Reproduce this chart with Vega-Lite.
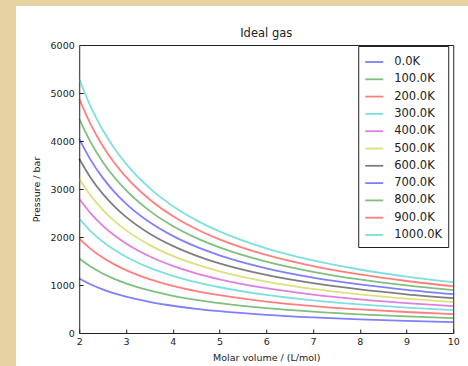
{
  "$schema": "https://vega.github.io/schema/vega-lite/v6.json",
  "background": "white",
  "padding": 0,
  "config": {"view": {"stroke": null}, "font": "DejaVu Sans"},
  "spacing": 0,
  "resolve": {"legend": {"color": "independent"}, "scale": {"color": "independent"}},
  "hconcat": [
    {"width": 16, "height": 366, "data": {"values": []}, "mark": "point", "view": {"fill": "#e6d3a2", "stroke": null}},
    {
      "spacing": 21,
      "center": true,
      "resolve": {"legend": {"color": "independent"}, "scale": {"color": "independent"}},
      "vconcat": [
        {"width": 507, "height": 6, "data": {"values": []}, "mark": "point", "view": {"fill": "#e6d3a2", "stroke": null}},
        {
          "width": 374,
          "height": 288,
          "view": {"fill": "white", "stroke": "#222", "strokeWidth": 1},
          "title": {"text": "Ideal gas", "fontSize": 11.5, "fontWeight": "normal", "color": "#222", "offset": 1, "anchor": "middle", "frame": "group"},
          "data": {"values": [
{"T":"0.0K","V":2,"P":1135.5},{"T":"0.0K","V":2.25,"P":1009.3},{"T":"0.0K","V":2.5,"P":908.4},{"T":"0.0K","V":2.75,"P":825.8},{"T":"0.0K","V":3,"P":757.0},{"T":"0.0K","V":3.5,"P":648.8},{"T":"0.0K","V":4,"P":567.7},{"T":"0.0K","V":4.5,"P":504.7},{"T":"0.0K","V":5,"P":454.2},{"T":"0.0K","V":6,"P":378.5},{"T":"0.0K","V":7,"P":324.4},{"T":"0.0K","V":8,"P":283.9},{"T":"0.0K","V":9,"P":252.3},{"T":"0.0K","V":10,"P":227.1},
{"T":"100.0K","V":2,"P":1551.2},{"T":"100.0K","V":2.25,"P":1378.8},{"T":"100.0K","V":2.5,"P":1240.9},{"T":"100.0K","V":2.75,"P":1128.1},{"T":"100.0K","V":3,"P":1034.1},{"T":"100.0K","V":3.5,"P":886.4},{"T":"100.0K","V":4,"P":775.6},{"T":"100.0K","V":4.5,"P":689.4},{"T":"100.0K","V":5,"P":620.5},{"T":"100.0K","V":6,"P":517.1},{"T":"100.0K","V":7,"P":443.2},{"T":"100.0K","V":8,"P":387.8},{"T":"100.0K","V":9,"P":344.7},{"T":"100.0K","V":10,"P":310.2},
{"T":"200.0K","V":2,"P":1966.9},{"T":"200.0K","V":2.25,"P":1748.3},{"T":"200.0K","V":2.5,"P":1573.5},{"T":"200.0K","V":2.75,"P":1430.5},{"T":"200.0K","V":3,"P":1311.3},{"T":"200.0K","V":3.5,"P":1123.9},{"T":"200.0K","V":4,"P":983.4},{"T":"200.0K","V":4.5,"P":874.2},{"T":"200.0K","V":5,"P":786.8},{"T":"200.0K","V":6,"P":655.6},{"T":"200.0K","V":7,"P":562.0},{"T":"200.0K","V":8,"P":491.7},{"T":"200.0K","V":9,"P":437.1},{"T":"200.0K","V":10,"P":393.4},
{"T":"300.0K","V":2,"P":2382.6},{"T":"300.0K","V":2.25,"P":2117.9},{"T":"300.0K","V":2.5,"P":1906.1},{"T":"300.0K","V":2.75,"P":1732.8},{"T":"300.0K","V":3,"P":1588.4},{"T":"300.0K","V":3.5,"P":1361.5},{"T":"300.0K","V":4,"P":1191.3},{"T":"300.0K","V":4.5,"P":1058.9},{"T":"300.0K","V":5,"P":953.0},{"T":"300.0K","V":6,"P":794.2},{"T":"300.0K","V":7,"P":680.7},{"T":"300.0K","V":8,"P":595.6},{"T":"300.0K","V":9,"P":529.5},{"T":"300.0K","V":10,"P":476.5},
{"T":"400.0K","V":2,"P":2798.3},{"T":"400.0K","V":2.25,"P":2487.4},{"T":"400.0K","V":2.5,"P":2238.6},{"T":"400.0K","V":2.75,"P":2035.1},{"T":"400.0K","V":3,"P":1865.5},{"T":"400.0K","V":3.5,"P":1599.0},{"T":"400.0K","V":4,"P":1399.1},{"T":"400.0K","V":4.5,"P":1243.7},{"T":"400.0K","V":5,"P":1119.3},{"T":"400.0K","V":6,"P":932.8},{"T":"400.0K","V":7,"P":799.5},{"T":"400.0K","V":8,"P":699.6},{"T":"400.0K","V":9,"P":621.8},{"T":"400.0K","V":10,"P":559.7},
{"T":"500.0K","V":2,"P":3214.0},{"T":"500.0K","V":2.25,"P":2856.9},{"T":"500.0K","V":2.5,"P":2571.2},{"T":"500.0K","V":2.75,"P":2337.4},{"T":"500.0K","V":3,"P":2142.7},{"T":"500.0K","V":3.5,"P":1836.6},{"T":"500.0K","V":4,"P":1607.0},{"T":"500.0K","V":4.5,"P":1428.4},{"T":"500.0K","V":5,"P":1285.6},{"T":"500.0K","V":6,"P":1071.3},{"T":"500.0K","V":7,"P":918.3},{"T":"500.0K","V":8,"P":803.5},{"T":"500.0K","V":9,"P":714.2},{"T":"500.0K","V":10,"P":642.8},
{"T":"600.0K","V":2,"P":3629.7},{"T":"600.0K","V":2.25,"P":3226.4},{"T":"600.0K","V":2.5,"P":2903.7},{"T":"600.0K","V":2.75,"P":2639.8},{"T":"600.0K","V":3,"P":2419.8},{"T":"600.0K","V":3.5,"P":2074.1},{"T":"600.0K","V":4,"P":1814.8},{"T":"600.0K","V":4.5,"P":1613.2},{"T":"600.0K","V":5,"P":1451.9},{"T":"600.0K","V":6,"P":1209.9},{"T":"600.0K","V":7,"P":1037.1},{"T":"600.0K","V":8,"P":907.4},{"T":"600.0K","V":9,"P":806.6},{"T":"600.0K","V":10,"P":725.9},
{"T":"700.0K","V":2,"P":4045.4},{"T":"700.0K","V":2.25,"P":3595.9},{"T":"700.0K","V":2.5,"P":3236.3},{"T":"700.0K","V":2.75,"P":2942.1},{"T":"700.0K","V":3,"P":2696.9},{"T":"700.0K","V":3.5,"P":2311.6},{"T":"700.0K","V":4,"P":2022.7},{"T":"700.0K","V":4.5,"P":1797.9},{"T":"700.0K","V":5,"P":1618.2},{"T":"700.0K","V":6,"P":1348.5},{"T":"700.0K","V":7,"P":1155.8},{"T":"700.0K","V":8,"P":1011.3},{"T":"700.0K","V":9,"P":899.0},{"T":"700.0K","V":10,"P":809.1},
{"T":"800.0K","V":2,"P":4461.1},{"T":"800.0K","V":2.25,"P":3965.4},{"T":"800.0K","V":2.5,"P":3568.9},{"T":"800.0K","V":2.75,"P":3244.4},{"T":"800.0K","V":3,"P":2974.1},{"T":"800.0K","V":3.5,"P":2549.2},{"T":"800.0K","V":4,"P":2230.5},{"T":"800.0K","V":4.5,"P":1982.7},{"T":"800.0K","V":5,"P":1784.4},{"T":"800.0K","V":6,"P":1487.0},{"T":"800.0K","V":7,"P":1274.6},{"T":"800.0K","V":8,"P":1115.3},{"T":"800.0K","V":9,"P":991.4},{"T":"800.0K","V":10,"P":892.2},
{"T":"900.0K","V":2,"P":4876.8},{"T":"900.0K","V":2.25,"P":4334.9},{"T":"900.0K","V":2.5,"P":3901.4},{"T":"900.0K","V":2.75,"P":3546.8},{"T":"900.0K","V":3,"P":3251.2},{"T":"900.0K","V":3.5,"P":2786.7},{"T":"900.0K","V":4,"P":2438.4},{"T":"900.0K","V":4.5,"P":2167.5},{"T":"900.0K","V":5,"P":1950.7},{"T":"900.0K","V":6,"P":1625.6},{"T":"900.0K","V":7,"P":1393.4},{"T":"900.0K","V":8,"P":1219.2},{"T":"900.0K","V":9,"P":1083.7},{"T":"900.0K","V":10,"P":975.4},
{"T":"1000.0K","V":2,"P":5292.5},{"T":"1000.0K","V":2.25,"P":4704.4},{"T":"1000.0K","V":2.5,"P":4234.0},{"T":"1000.0K","V":2.75,"P":3849.1},{"T":"1000.0K","V":3,"P":3528.3},{"T":"1000.0K","V":3.5,"P":3024.3},{"T":"1000.0K","V":4,"P":2646.2},{"T":"1000.0K","V":4.5,"P":2352.2},{"T":"1000.0K","V":5,"P":2117.0},{"T":"1000.0K","V":6,"P":1764.2},{"T":"1000.0K","V":7,"P":1512.1},{"T":"1000.0K","V":8,"P":1323.1},{"T":"1000.0K","V":9,"P":1176.1},{"T":"1000.0K","V":10,"P":1058.5}
          ]},
          "mark": {"type": "line", "interpolate": "monotone", "strokeWidth": 1.8, "opacity": 0.5},
          "encoding": {
            "x": {"field": "V", "type": "quantitative", "scale": {"domain": [2, 10], "nice": false},
              "axis": {"title": "Molar volume / (L/mol)", "values": [2,3,4,5,6,7,8,9,10], "format": "d", "grid": false, "domain": false,
                "tickSize": -4, "tickColor": "#222", "labelPadding": 7, "labelFontSize": 9.5, "labelColor": "#222", "labelFlush": false,
                "titleFontSize": 9.5, "titleFontWeight": "normal", "titleColor": "#222", "titlePadding": 7}},
            "y": {"field": "P", "type": "quantitative", "scale": {"domain": [0, 6000], "nice": false},
              "axis": {"title": "Pressure / bar", "values": [0,1000,2000,3000,4000,5000,6000], "format": "d", "grid": false, "domain": false,
                "tickSize": -4, "tickColor": "#222", "labelPadding": 9, "labelFontSize": 9.5, "labelColor": "#222", "labelFlush": false,
                "titleFontSize": 9.5, "titleFontWeight": "normal", "titleColor": "#222", "titlePadding": 8.5}},
            "color": {"field": "T", "type": "nominal",
              "scale": {"domain": ["0.0K","100.0K","200.0K","300.0K","400.0K","500.0K","600.0K","700.0K","800.0K","900.0K","1000.0K"],
                "range": ["#0000ff","#008000","#ff0000","#00bfbf","#bf00bf","#bfbf00","#000000","#0000ff","#008000","#ff0000","#00bfbf"]},
              "legend": {"title": null, "orient": "none", "legendX": 279, "legendY": 1, "padding": 6, "strokeColor": "#222", "fillColor": "white",
                "symbolType": "stroke", "symbolSize": 324, "symbolStrokeWidth": 1.8, "symbolOpacity": 0.5,
                "labelFontSize": 11.5, "labelColor": "#222", "labelOffset": 10, "rowPadding": 1.3}}
          }
        }
      ]
    }
  ]
}
